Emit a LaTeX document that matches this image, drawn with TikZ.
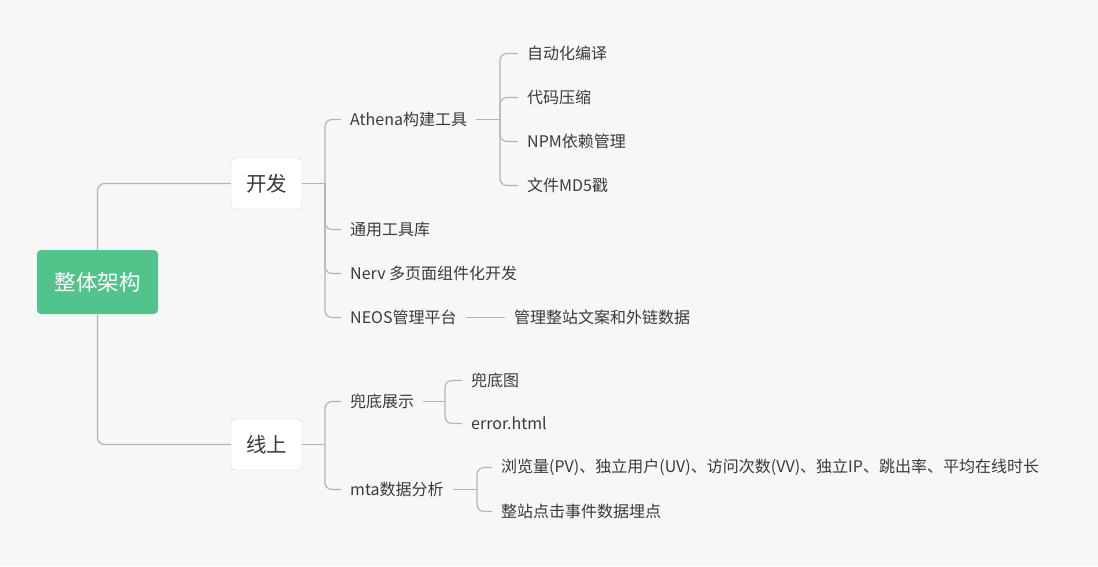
\documentclass[tikz,border=0pt]{standalone}
\usepackage{fontspec}
\setmainfont{Noto Sans CJK SC}
\usetikzlibrary{positioning}
\definecolor{bgcol}{HTML}{F7F7F7}
\definecolor{rootgreen}{HTML}{52C48B}
\definecolor{linkgray}{HTML}{B4B4B4}
\definecolor{boxgray}{HTML}{D0D0D0}
\definecolor{textgray}{HTML}{3A3A3A}
\tikzstyle{root} = [fill=rootgreen, rounded corners=4pt, text=white, minimum width=121pt,
                    minimum height=64pt, font=\fontsize{21.5}{24}\selectfont]
\tikzstyle{branch} = [draw=boxgray, fill=white, rounded corners=4pt, minimum width=71pt,
                      minimum height=51pt, text=textgray, font=\fontsize{20.5}{24}\selectfont]
\tikzstyle{leaf} = [anchor=west, inner xsep=9pt, inner ysep=2pt, text=textgray,
                    font=\fontsize{16}{18}\selectfont]
\tikzstyle{link} = [draw=linkgray, line width=1.2pt, rounded corners=7pt]

\begin{document}
\begin{tikzpicture}[x=1pt, y=-1pt]
				\fill[bgcol] (0, 0) rectangle (1098, 566);

				\node (Root) [root] at (97.5, 282) {整体架构};
				\node (Dev) [branch] at (266.5, 183.5) {开发};
				\node (Online) [branch] at (266.5, 444.5) {线上};
				\draw [link] (Root.north) |- (Dev.west);
				\draw [link] (Root.south) |- (Online.west);

				% development
				\coordinate (DevFork) at (325, 183.5);
				\draw [link] (Dev.east) -- (DevFork);
				\node (Athena) [leaf] at (341, 119.5) {Athena构建工具};
				\node (Utils) [leaf] at (341, 229.5) {通用工具库};
				\node (Nerv) [leaf] at (341, 273.5) {Nerv 多页面组件化开发};
				\node (Neos) [leaf] at (341, 317.5) {NEOS管理平台};
				\draw [link] (DevFork) |- (Athena.west);
				\draw [link] (DevFork) |- (Utils.west);
				\draw [link] (DevFork) |- (Nerv.west);
				\draw [link] (DevFork) |- (Neos.west);

				% build tool
				\coordinate (AthenaFork) at (500, 119.5);
				\draw [link] (Athena.east) -- (AthenaFork);
				\node (Compile) [leaf] at (518, 53.5) {自动化编译};
				\node (Minify) [leaf] at (518, 97.5) {代码压缩};
				\node (Npm) [leaf] at (518, 141.5) {NPM依赖管理};
				\node (Md5) [leaf] at (518, 185.5) {文件MD5戳};
				\draw [link] (AthenaFork) |- (Compile.west);
				\draw [link] (AthenaFork) |- (Minify.west);
				\draw [link] (AthenaFork) |- (Npm.west);
				\draw [link] (AthenaFork) |- (Md5.west);

				% admin platform
				\node (NeosInfo) [leaf] at (505, 317.5) {管理整站文案和外链数据};
				\draw [link] (Neos.east) -- (NeosInfo.west);

				% online
				\coordinate (OnlineFork) at (325, 444.5);
				\draw [link] (Online.east) -- (OnlineFork);
				\node (Fallback) [leaf] at (341, 401.5) {兜底展示};
				\node (Mta) [leaf] at (341, 489.5) {mta数据分析};
				\draw [link] (OnlineFork) |- (Fallback.west);
				\draw [link] (OnlineFork) |- (Mta.west);

				% fallback pages
				\coordinate (FallbackFork) at (445, 401.5);
				\draw [link] (Fallback.east) -- (FallbackFork);
				\node (FallbackImg) [leaf] at (462, 380.5) {兜底图};
				\node (ErrorPage) [leaf] at (462, 423.5) {error.html};
				\draw [link] (FallbackFork) |- (FallbackImg.west);
				\draw [link] (FallbackFork) |- (ErrorPage.west);

				% statistics
				\coordinate (MtaFork) at (477, 489.5);
				\draw [link] (Mta.east) -- (MtaFork);
				\node (Stats) [leaf] at (492, 467.5) {浏览量(PV)、独立用户(UV)、访问次数(VV)、独立IP、跳出率、平均在线时长};
				\node (Track) [leaf] at (492, 511.5) {整站点击事件数据埋点};
				\draw [link] (MtaFork) |- (Stats.west);
				\draw [link] (MtaFork) |- (Track.west);
\end{tikzpicture}
\end{document}
